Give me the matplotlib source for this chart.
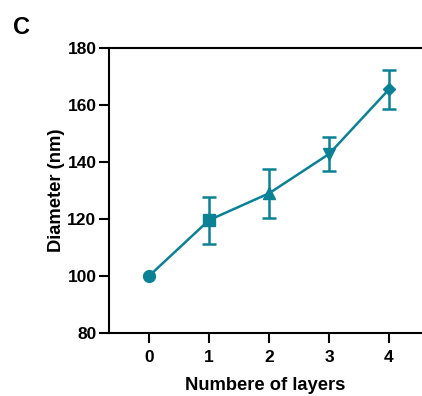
import matplotlib
matplotlib.use("Agg")
import matplotlib.pyplot as plt

layers = [0, 1, 2, 3, 4]
diameter = [100.0, 119.6, 129.0, 142.8, 165.5]
err = [0.0, 8.2, 8.7, 6.1, 6.8]
markers = ['o', 's', '^', 'v', 'D']
color = '#0b8196'

plt.rcParams['font.family'] = ['Liberation Sans', 'DejaVu Sans']
plt.rcParams['font.weight'] = 'bold'

fig = plt.figure(figsize=(4.22, 3.96), dpi=100)
ax = fig.add_axes([109/422, 63/396, 1 - 109/422, (333-48)/396])
ax.plot(layers, diameter, color=color, lw=1.8, zorder=2)
for x, y, e, m in zip(layers, diameter, err, markers):
    if e > 0:
        ax.errorbar(x, y, yerr=e, color=color, capsize=5, capthick=1.8, elinewidth=1.8, fmt='none', zorder=2)
    ax.plot(x, y, marker=m, color=color, ms=8.5 if m != 'D' else 6.5, zorder=3, linestyle='none')

ax.set_xlim(-0.667, 4.55)
ax.set_ylim(80, 180)
ax.set_xticks(layers)
ax.set_yticks([80, 100, 120, 140, 160, 180])
ax.spines['right'].set_visible(False)
for s in ['left', 'bottom', 'top']:
    ax.spines[s].set_linewidth(1.5)
ax.tick_params(width=1.5, length=7, labelsize=12.5)
ax.tick_params(axis='y', pad=2)
ax.tick_params(axis='x', pad=5)
for lab in ax.get_xticklabels() + ax.get_yticklabels():
    lab.set_fontweight('bold')
ax.set_xlabel('Numbere of layers', fontsize=13.2, fontweight='bold', labelpad=9)
ax.set_ylabel('Diameter (nm)', fontsize=13.2, fontweight='bold', labelpad=2)
fig.text(13/422, 1 - 34/396, 'C', fontsize=17, fontweight='bold')
fig.savefig('out.png', dpi=100)
